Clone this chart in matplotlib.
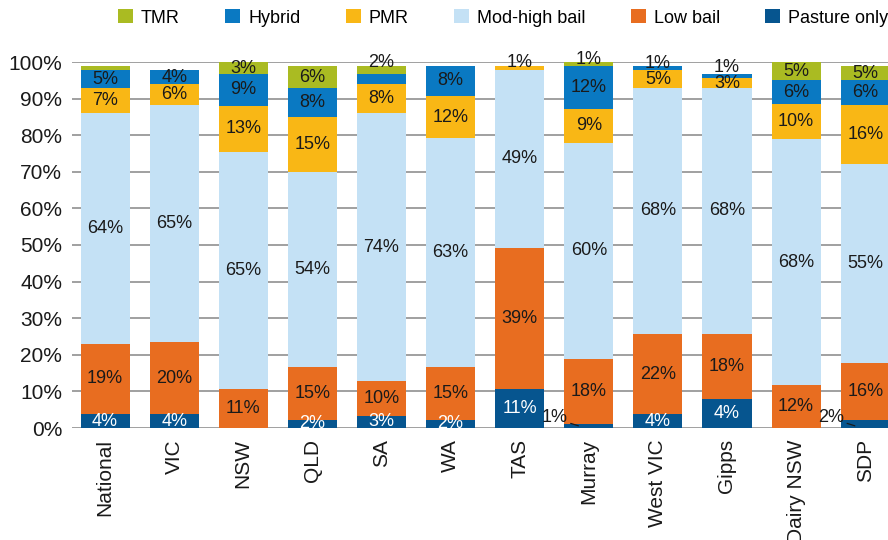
import matplotlib
matplotlib.use('Agg')
import matplotlib.pyplot as plt
from matplotlib.patches import Patch
import numpy as np

plt.rcParams['font.family'] = ['Liberation Sans', 'DejaVu Sans']

categories = ['National', 'VIC', 'NSW', 'QLD', 'SA', 'WA', 'TAS', 'Murray',
              'West VIC', 'Gipps', 'Dairy NSW', 'SDP']

# segment heights (% of farms), bottom to top
pasture = [3.8, 3.8, 0, 2.2, 3.3, 2.2, 10.6, 1.1, 3.8, 7.9, 0, 2.2]
low_bail = [19.2, 19.7, 10.6, 14.5, 9.5, 14.5, 38.6, 17.8, 21.9, 17.8, 11.7, 15.6]
mod_high = [63.1, 64.8, 64.8, 53.3, 73.3, 62.5, 48.6, 59.0, 67.2, 67.2, 67.3, 54.2]
pmr = [6.8, 5.7, 12.6, 15.0, 7.9, 11.5, 1.2, 9.3, 4.9, 2.7, 9.5, 16.3]
hybrid = [4.9, 3.8, 8.7, 7.9, 2.7, 8.3, 0, 11.7, 1.1, 1.1, 6.5, 6.7]
tmr = [1.2, 0, 3.3, 6.0, 2.3, 0, 0, 1.1, 0, 0, 5.0, 3.9]

# printed labels (None = no label)
pasture_lbl = [4, 4, None, 2, 3, 2, 11, 1, 4, 4, None, 2]
low_lbl = [19, 20, 11, 15, 10, 15, 39, 18, 22, 18, 12, 16]
mod_high_lbl = [64, 65, 65, 54, 74, 63, 49, 60, 68, 68, 68, 55]
pmr_lbl = [7, 6, 13, 15, 8, 12, 1, 9, 5, 3, 10, 16]
hybrid_lbl = [5, 4, 9, 8, None, 8, None, 12, 1, 1, 6, 6]
tmr_lbl = [None, None, 3, 6, 2, None, None, 1, None, None, 5, 5]

pasture_outside = ['Murray', 'SDP']

series = [
    ('Pasture only', pasture, pasture_lbl, '#06558F', 'white'),
    ('Low bail', low_bail, low_lbl, '#E86D20', '#1a1a1a'),
    ('Mod-high bail', mod_high, mod_high_lbl, '#C4E1F5', '#1a1a1a'),
    ('PMR', pmr, pmr_lbl, '#F9B715', '#1a1a1a'),
    ('Hybrid', hybrid, hybrid_lbl, '#0A79C2', '#1a1a1a'),
    ('TMR', tmr, tmr_lbl, '#AABB22', '#1a1a1a'),
]

fig = plt.figure(figsize=(8.88, 5.4), dpi=100)
ax = fig.add_axes([72/888, 1 - 428/540, 1 - 72/888, (428 - 62)/540])

x = np.arange(len(categories))
w = 0.71
bottom = np.zeros(len(categories))
for name, vals, lbls, col, tcol in series:
    vals = np.array(vals, dtype=float)
    ax.bar(x, vals, w, bottom=bottom, color=col, label=name, zorder=2)
    for i, lb in enumerate(lbls):
        if lb is None:
            continue
        txt = f'{lb}%'
        if name == 'Pasture only' and categories[i] in pasture_outside:
            # small value: label left of bar with a leader line
            ax.annotate(txt, xy=(x[i] - 0.15, 0.6), xytext=(x[i] - 0.49, 3.0),
                        ha='center', va='center', fontsize=13, color='#1a1a1a',
                        arrowprops=dict(arrowstyle='-', color='#1a1a1a', lw=0.9,
                                        shrinkA=0, shrinkB=0, relpos=(0.95, 0.2)),
                        annotation_clip=False, zorder=4)
            continue
        if name != 'Pasture only' and vals[i] < 2.5:
            y = max(bottom[i] + vals[i] + 0.8, 98.6)
        else:
            y = bottom[i] + vals[i] / 2
        ax.text(x[i], y, txt, ha='center', va='center', fontsize=13,
                color=tcol, zorder=4, clip_on=False)
    bottom += vals

ax.set_ylim(0, 100)
ax.set_xlim(-0.478, 11.33)
ax.set_yticks(range(0, 101, 10))
ax.set_yticklabels([f'{v}%' for v in range(0, 101, 10)], fontsize=15, color='#1a1a1a')
ax.set_xticks(x)
ax.set_xticklabels(categories, rotation=90, fontsize=15, color='#1a1a1a')
ax.tick_params(axis='y', length=0, pad=7)
ax.tick_params(axis='x', length=0, pad=8)
for s in ax.spines.values():
    s.set_visible(False)
ax.yaxis.grid(True, color='#999999', lw=1.3, zorder=0)
ax.set_axisbelow(True)

order = ['TMR', 'Hybrid', 'PMR', 'Mod-high bail', 'Low bail', 'Pasture only']
colors = {n: c for n, _, _, c, _ in series}
handles = [Patch(facecolor=colors[n], label=n) for n in order]
fig.legend(handles=handles, ncol=6, loc='center left',
           bbox_to_anchor=(118/888, 1 - 18/540), frameon=False, fontsize=13,
           borderpad=0, borderaxespad=0, handlelength=0.83, handleheight=0.83,
           handletextpad=0.45, columnspacing=2.5)

fig.savefig('out.png', dpi=100)
